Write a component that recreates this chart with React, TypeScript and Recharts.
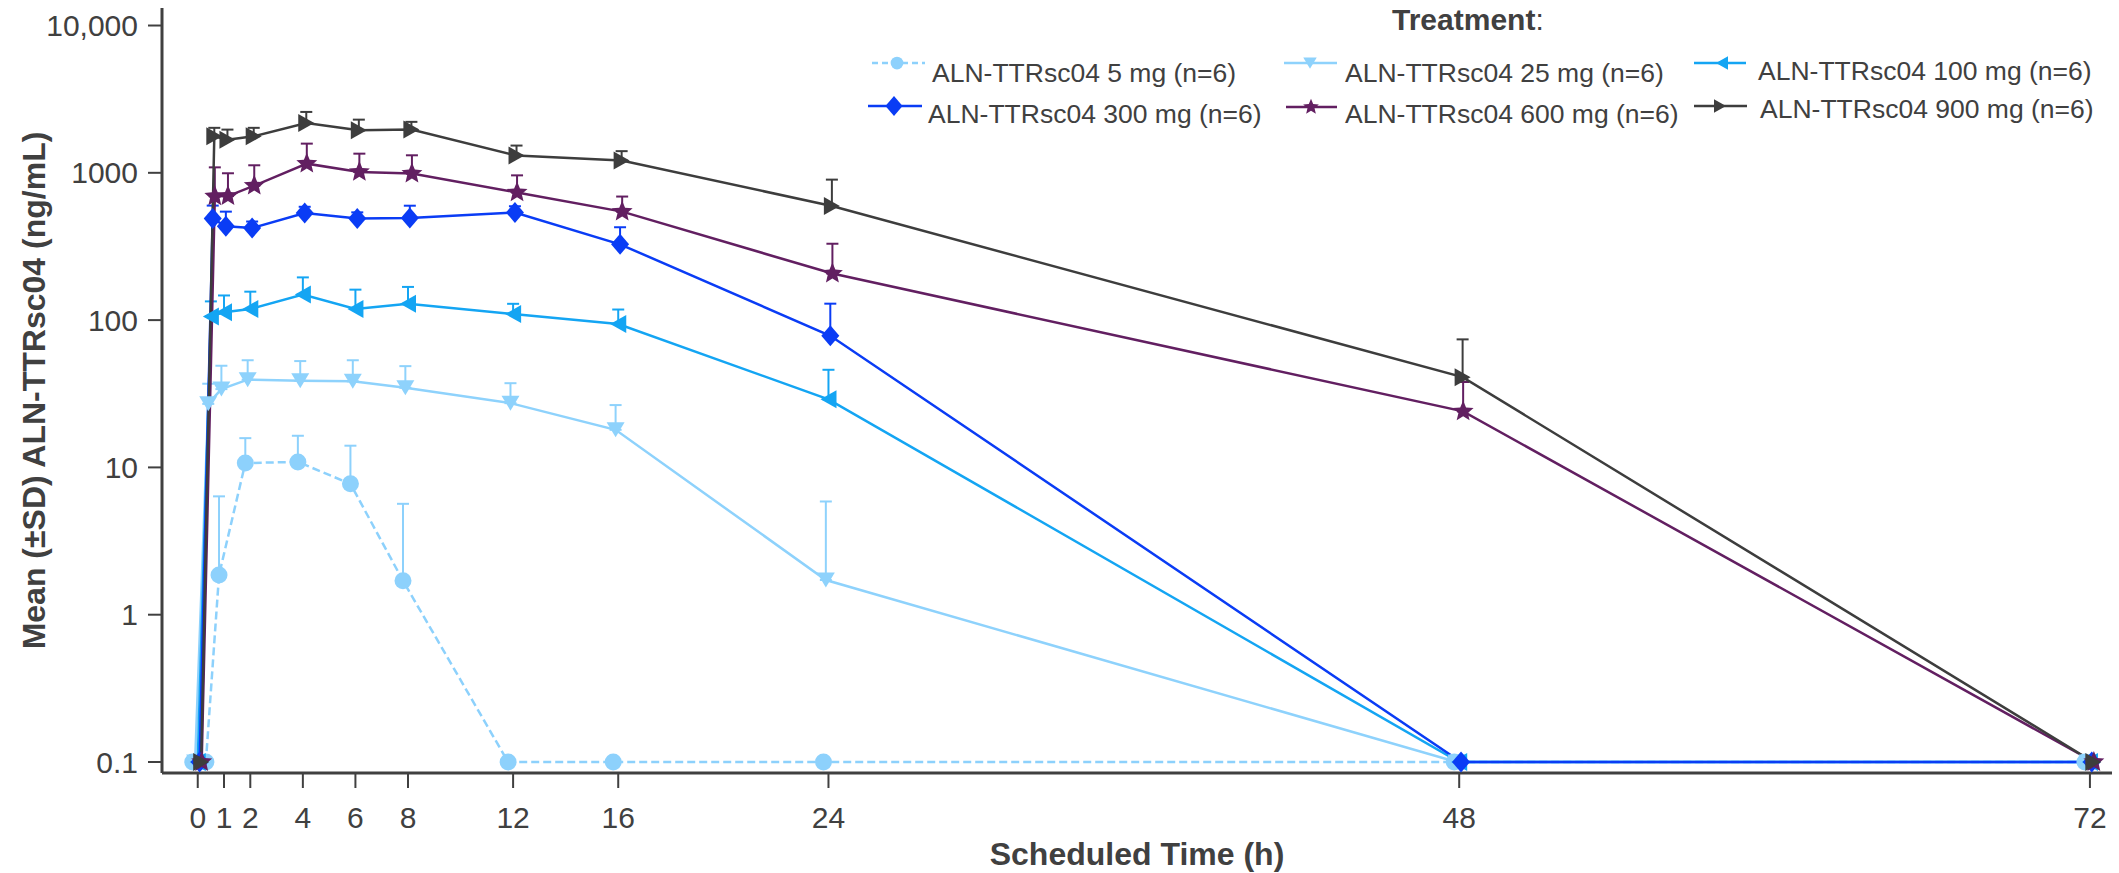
import React from 'react';
import { LineChart, Line, XAxis, YAxis, ErrorBar, Label } from 'recharts';

// scheduled sampling times (h)
const TIMES = [0, 0.5, 1, 2, 4, 6, 8, 12, 16, 24, 48, 72];
const X_TICKS = [0, 1, 2, 4, 6, 8, 12, 16, 24, 48, 72];
const Y_TICKS = [0.1, 1, 10, 100, 1000, 10000];

// mean concentrations (ng/mL), BLQ plotted at 0.1
const MEAN_5 = [0.1, 0.1, 1.86, 10.7, 10.9, 7.74, 1.7, 0.1, 0.1, 0.1, 0.1, 0.1];
const SD_5 = [0, 0, 4.5, 5.1, 5.5, 6.3, 3.96, 0, 0, 0, 0, 0];
const MEAN_25 = [0.1, 27, 34, 39.4, 38.7, 38.4, 34.7, 27.3, 18, 1.72, 0.1, 0.1];
const SD_25 = [0, 10, 15, 14, 14, 15, 14, 10, 8.5, 4.15, 0, 0];
const MEAN_100 = [0.1, 106, 113, 119, 149, 119, 129, 110, 94, 29, 0.1, 0.1];
const SD_100 = [0, 28, 34, 37, 46, 42, 39, 19, 24, 17, 0, 0];
const MEAN_300 = [0.1, 489, 433, 422, 533, 489, 493, 538, 327, 78.3, 0.1, 0.1];
const SD_300 = [0, 110, 112, 45, 55, 50, 105, 55, 100, 51, 0, 0];
const MEAN_600 = [0.1, 692, 695, 818, 1154, 1014, 988, 736, 545, 207, 24, 0.1];
const SD_600 = [0, 397, 298, 307, 424, 335, 327, 225, 145, 123, 14, 0];
const MEAN_900 = [0.1, 1770, 1680, 1770, 2180, 1946, 1965, 1309, 1213, 595, 41, 0.1];
const SD_900 = [0, 250, 285, 250, 410, 350, 253, 222, 190, 304, 33, 0];

const FONT = '"Liberation Sans", Arial, Helvetica, sans-serif';
const INK = '#404040';

const X_MIN = -1.36;
const X_MAX = 72.84;
const Y_MIN = 0.0842;
const Y_MAX = 13150;

type Shape = 'circle' | 'down' | 'left' | 'diamond' | 'star' | 'right';

const SERIES: {
  name: string; mean: number[]; sd: number[]; color: string; shape: Shape; dash?: string; dodge: number;
}[] = [
  { name: 'ALN-TTRsc04 5 mg (n=6)', mean: MEAN_5, sd: SD_5, color: '#8DD1FC', shape: 'circle', dash: '8 4', dodge: -0.19 },
  { name: 'ALN-TTRsc04 25 mg (n=6)', mean: MEAN_25, sd: SD_25, color: '#8ED2FC', shape: 'down', dodge: -0.1 },
  { name: 'ALN-TTRsc04 100 mg (n=6)', mean: MEAN_100, sd: SD_100, color: '#14A5F3', shape: 'left', dodge: 0 },
  { name: 'ALN-TTRsc04 300 mg (n=6)', mean: MEAN_300, sd: SD_300, color: '#0A3CF5', shape: 'diamond', dodge: 0.07 },
  { name: 'ALN-TTRsc04 600 mg (n=6)', mean: MEAN_600, sd: SD_600, color: '#621F61', shape: 'star', dodge: 0.15 },
  { name: 'ALN-TTRsc04 900 mg (n=6)', mean: MEAN_900, sd: SD_900, color: '#3D3D3D', shape: 'right', dodge: 0.13 },
];

// legend layout: [lineX1, lineX2, markerX, markerY, textX, baseline]
const LEGEND_POS = [
  [872, 925, 897, 63, 932, 82],
  [1284, 1337, 1310, 63, 1345, 82],
  [1694, 1746, 1722, 63, 1758, 80],
  [868, 922, 894, 106, 928, 123],
  [1286, 1337, 1311, 107, 1345, 123],
  [1694, 1747, 1720, 106, 1760, 118],
];

const starPath = (cx: number, cy: number, R: number) => {
  const pts: string[] = [];
  for (let i = 0; i < 10; i++) {
    const r = i % 2 === 0 ? R : R * 0.45;
    const a = -Math.PI / 2 + (i * Math.PI) / 5;
    pts.push(`${cx + r * Math.cos(a)},${cy + r * Math.sin(a)}`);
  }
  return pts.join(' ');
};

const Marker = ({ shape, cx, cy, color, k = 1 }: { shape: Shape; cx: number; cy: number; color: string; k?: number }) => {
  switch (shape) {
    case 'circle':
      return <ellipse cx={cx} cy={cy} rx={8.5 * k} ry={8.5 * k} fill={color} />;
    case 'down': {
      const w = 18 * k, h = 15 * k;
      return <polygon points={`${cx - w / 2},${cy - h / 2} ${cx + w / 2},${cy - h / 2} ${cx},${cy + h / 2}`} fill={color} />;
    }
    case 'left': {
      const w = 16 * k, h = 18 * k;
      return <polygon points={`${cx + w / 2},${cy - h / 2} ${cx + w / 2},${cy + h / 2} ${cx - w / 2},${cy}`} fill={color} />;
    }
    case 'right': {
      const w = 16 * k, h = 18 * k;
      return <polygon points={`${cx - w / 2},${cy - h / 2} ${cx - w / 2},${cy + h / 2} ${cx + w / 2},${cy}`} fill={color} />;
    }
    case 'diamond': {
      const w = 18 * k, h = 21 * k;
      return <polygon points={`${cx},${cy - h / 2} ${cx + w / 2},${cy} ${cx},${cy + h / 2} ${cx - w / 2},${cy}`} fill={color} />;
    }
    case 'star':
      return <polygon points={starPath(cx, cy, 11 * k)} fill={color} />;
  }
};

const makeDot = (shape: Shape, color: string) => (props: any) => {
  const { cx, cy, index } = props;
  if (cx == null || cy == null) return <g key={`d${index}`} />;
  return (
    <g key={`d${index}`}>
      <Marker shape={shape} cx={cx} cy={cy} color={color} />
    </g>
  );
};

const fmtY = (v: number) => (v === 10000 ? '10,000' : String(v));

const YTitle = (props: any) => {
  const vb = props.viewBox || { y: 8, height: 765 };
  const cy = vb.y + vb.height / 2;
  return (
    <text x={45} y={cy} transform={`rotate(-90, 45, ${cy})`} textAnchor="middle"
      fontFamily={FONT} fontWeight="bold" fontSize={32} fill={INK}>
      Mean (±SD) ALN-TTRsc04 (ng/mL)
    </text>
  );
};

const XTitle = (props: any) => {
  const vb = props.viewBox || { x: 162, width: 1950 };
  return (
    <text x={vb.x + vb.width / 2} y={865} textAnchor="middle"
      fontFamily={FONT} fontWeight="bold" fontSize={32} fill={INK}>
      Scheduled Time (h)
    </text>
  );
};

const LegendBox = () => (
  <svg width={2119} height={140} style={{ position: 'absolute', left: 0, top: 0, pointerEvents: 'none' }}>
    <text x={1392} y={30} fontFamily={FONT} fontSize={30} fill={INK}>
      <tspan fontWeight="bold">Treatment</tspan>:
    </text>
    {SERIES.map((s, i) => {
      const [x1, x2, mx, my, tx, ty] = LEGEND_POS[i];
      return (
        <g key={s.name}>
          <line x1={x1} x2={x2} y1={my} y2={my} stroke={s.color} strokeWidth={2.5}
            strokeDasharray={s.dash ? '6 4' : undefined} />
          <Marker shape={s.shape} cx={mx} cy={my} color={s.color} k={s.shape === 'diamond' ? 0.95 : 0.75} />
          <text x={tx} y={ty} fontFamily={FONT} fontSize={26.5} fill={INK}>{s.name}</text>
        </g>
      );
    })}
  </svg>
);

export default function App() {
  return (
    <div style={{ position: 'absolute', left: 0, top: 0, width: 2119, height: 873, background: '#fff' }}>
      <LineChart width={2119} height={873} margin={{ top: 8, right: 7, bottom: 0, left: 0 }}>
        <XAxis type="number" dataKey="t" domain={[X_MIN, X_MAX]} allowDataOverflow ticks={X_TICKS} interval={0}
          height={100} tickSize={15} tickMargin={19} stroke={INK} strokeWidth={3}
          tickLine={{ stroke: INK, strokeWidth: 2 }}
          tick={{ fill: INK, fontSize: 30, fontFamily: FONT }}>
          <Label content={XTitle} />
        </XAxis>
        <YAxis type="number" scale="log" domain={[Y_MIN, Y_MAX]} allowDataOverflow ticks={Y_TICKS} interval={0}
          width={162} tickSize={14} tickMargin={10} stroke={INK} strokeWidth={3}
          tickLine={{ stroke: INK, strokeWidth: 2 }}
          tickFormatter={fmtY}
          tick={{ fill: INK, fontSize: 30, fontFamily: FONT }}>
          <Label content={YTitle} />
        </YAxis>
        {SERIES.map((s) => (
          <Line key={s.name} name={s.name} type="linear" dataKey="y"
            data={TIMES.map((t, i) => ({ t: t + s.dodge, y: s.mean[i], err: [0, s.sd[i]] }))}
            stroke={s.color} strokeWidth={2.5} strokeDasharray={s.dash}
            dot={makeDot(s.shape, s.color)} activeDot={false} isAnimationActive={false}>
            <ErrorBar dataKey="err" direction="y" width={6} stroke={s.color} strokeWidth={2} isAnimationActive={false} />
          </Line>
        ))}
      </LineChart>
      <LegendBox />
    </div>
  );
}
